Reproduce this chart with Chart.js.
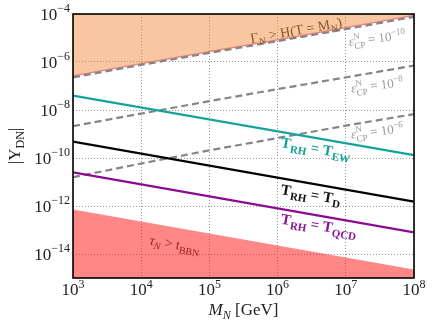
<!DOCTYPE html>
<html>
<head>
<meta charset="utf-8">
<script src="https://cdn.jsdelivr.net/npm/chart.js@4.4.1/dist/chart.umd.min.js"></script>
<style>
  html, body { margin: 0; padding: 0; background: #fff; }
</style>
</head>
<body>
<canvas id="chart" width="432" height="329"></canvas>
<script>
// Axis ranges / ticks
const xMin = 1e3, xMax = 1e8;
const yMin = 1e-15, yMax = 1e-4;
const xTickExp = [3, 4, 5, 6, 7, 8];
const yTickExp = [-4, -6, -8, -10, -12, -14];

// Masses M_N [GeV] the curves are read at
const massGrid = [1e3, 1e4, 1e5, 1e6, 1e7, 1e8];
const massEnds = [1e3, 1e8];

// log10 |Y_DN|
const logGammaH = [-6.58, -6.07, -5.57, -5.08, -4.57, -4.06];   // Gamma_N > H(T = M_N) boundary
const logEps10 = [-6.64, -6.12, -5.62, -5.13, -4.63, -4.12];    // eps_CP = 1e-10
const logEps8  = [-8.67, -8.15, -7.63, -7.13, -6.64, -6.15];    // eps_CP = 1e-8
const logEps6  = [-10.8, -10.23, -9.68, -9.17, -8.65, -8.17];   // eps_CP = 1e-6
const logTEW   = [-7.40, -9.88];    // T_RH = T_EW
const logTD    = [-9.32, -11.82];   // T_RH = T_D
const logTQCD  = [-10.60, -13.10];  // T_RH = T_QCD
const logBBN   = [-12.15, -14.65];  // tau_N > t_BBN boundary

const toPts = (xs, logs) => xs.map((x, i) => ({ x: x, y: Math.pow(10, logs[i]) }));

const SERIF = '"Liberation Serif", "DejaVu Serif", serif';
const MINUS = '\u2212';

// draw text made of pieces with sub/superscripts, centred on (x, y), rotated
function drawRich(ctx, parts, x, y, o) {
    const size = o.size;
    const small = Math.round(size * 0.7);
    const weight = o.bold ? 'bold ' : '';
    const font = (s, it) => (it ? 'italic ' : '') + weight + s + 'px ' + SERIF;
    const widths = parts.map(p => {
        if (p.k === 'both') {
            ctx.font = font(small, p.it);
            return Math.max(ctx.measureText(p.sup).width, ctx.measureText(p.sub).width);
        }
        ctx.font = font(p.k ? small : size, p.it);
        return ctx.measureText(p.t).width;
    });
    const total = widths.reduce((a, b) => a + b, 0);
    ctx.save();
    ctx.translate(x, y);
    ctx.rotate(o.angle || 0);
    ctx.fillStyle = o.color;
    ctx.textAlign = 'left';
    ctx.textBaseline = 'alphabetic';
    let cx = o.align === 'right' ? -total : (o.align === 'left' ? 0 : -total / 2);
    const base = o.baseline === undefined ? size * 0.35 : o.baseline;
    parts.forEach((p, i) => {
        if (p.k === 'both') {
            ctx.font = font(small, p.it);
            ctx.fillText(p.sup, cx, base - size * 0.45);
            ctx.fillText(p.sub, cx, base + size * 0.28);
        } else if (p.k === 'sub') {
            ctx.font = font(small, p.it);
            ctx.fillText(p.t, cx, base + size * 0.25);
        } else if (p.k === 'sup') {
            ctx.font = font(small, p.it);
            ctx.fillText(p.t, cx, base - size * 0.42);
        } else {
            ctx.font = font(size, p.it);
            ctx.fillText(p.t, cx, base);
        }
        cx += widths[i];
    });
    ctx.restore();
}

function lineAngle(chart, xs, logs) {
    const sx = chart.scales.x, sy = chart.scales.y;
    const n = xs.length - 1;
    const x1 = sx.getPixelForValue(xs[0]), x2 = sx.getPixelForValue(xs[n]);
    const y1 = sy.getPixelForValue(Math.pow(10, logs[0])), y2 = sy.getPixelForValue(Math.pow(10, logs[n]));
    return Math.atan2(y2 - y1, x2 - x1);
}

const epsLabel = e => [
    { t: '\u03b5', it: true },
    { k: 'both', sup: 'N', sub: 'CP' },
    { t: ' = 10' },
    { t: MINUS + e, k: 'sup' }
];

const decorPlugin = {
    id: 'decor',
    afterDraw(chart) {
        const ctx = chart.ctx;
        const a = chart.chartArea;
        const sx = chart.scales.x, sy = chart.scales.y;

        // frame
        ctx.save();
        ctx.strokeStyle = '#000';
        ctx.lineWidth = 1.6;
        ctx.strokeRect(a.left, a.top, a.right - a.left, a.bottom - a.top);
        ctx.restore();

        // x tick labels
        xTickExp.forEach(e => {
            const px = sx.getPixelForValue(Math.pow(10, e));
            drawRich(ctx, [{ t: '10' }, { t: String(e), k: 'sup' }], px, a.bottom + 17,
                { size: 17, color: '#222', baseline: 0 });
        });
        // y tick labels
        yTickExp.forEach(e => {
            const py = sy.getPixelForValue(Math.pow(10, e));
            drawRich(ctx, [{ t: '10' }, { t: MINUS + Math.abs(e), k: 'sup' }], a.left - 3, py + 5.5,
                { size: 17, color: '#222', baseline: 0, align: 'right' });
        });

        // axis titles
        drawRich(ctx, [{ t: 'M', it: true }, { t: 'N', k: 'sub', it: true }, { t: ' [GeV]' }],
            (a.left + a.right) / 2, 315, { size: 17, color: '#222', baseline: 0 });
        drawRich(ctx, [{ t: '|Y' }, { t: 'DN', k: 'sub' }, { t: '|' }],
            14, (a.top + a.bottom) / 2, { size: 17, color: '#222', angle: -Math.PI / 2 });

        // curve labels
        const up = lineAngle(chart, massGrid, logGammaH);
        const down = lineAngle(chart, massEnds, logTEW);
        drawRich(ctx, [{ t: '\u0393' }, { t: 'N', k: 'sub' }, { t: ' > H(T = M' }, { t: 'N', k: 'sub' }, { t: ')' }],
            296, 30, { size: 14, color: '#86582c', angle: up });
        drawRich(ctx, epsLabel(10), 377, 38, { size: 13, color: '#9a9a9a', angle: up * 0.7 });
        drawRich(ctx, epsLabel(8), 377, 85, { size: 13, color: '#9a9a9a', angle: up * 0.7 });
        drawRich(ctx, epsLabel(6), 377, 131, { size: 13, color: '#9a9a9a', angle: up * 0.7 });

        const T = (sub, color, x, y) => drawRich(ctx,
            [{ t: 'T' }, { t: 'RH', k: 'sub' }, { t: ' = T' }, { t: sub, k: 'sub' }],
            x, y, { size: 15, color: color, bold: true, angle: down });
        T('EW', '#14a39a', 316, 148);
        T('D', '#111', 311, 194);
        T('QCD', '#8a1592', 319, 225);

        drawRich(ctx, [{ t: '\u03c4', it: true }, { t: 'N', k: 'sub', it: true }, { t: ' > t' }, { t: 'BBN', k: 'sub' }],
            175, 244, { size: 14, color: '#a51d1d', angle: down });
    }
};

const solid = (label, data, color) => ({
    label, data, borderColor: color, borderWidth: 2.2, pointRadius: 0, fill: false, order: 1
});
const dashed = (label, data) => ({
    label, data, borderColor: '#858585', borderWidth: 2.2, borderDash: [7, 4], pointRadius: 0, fill: false, order: 5
});

new Chart(document.getElementById('chart'), {
    type: 'line',
    data: {
        datasets: [
            { label: 'Gamma_N > H', data: toPts(massGrid, logGammaH), fill: 'end',
              backgroundColor: 'rgba(238,120,30,0.42)', borderColor: '#f27a7a', borderWidth: 1.2,
              pointRadius: 0, order: 10 },
            { label: 'tau_N > t_BBN', data: toPts(massEnds, logBBN), fill: 'start',
              backgroundColor: 'rgba(255,0,0,0.47)', borderWidth: 0, pointRadius: 0, order: 10 },
            dashed('eps 1e-10', toPts(massGrid, logEps10)),
            dashed('eps 1e-8', toPts(massGrid, logEps8)),
            dashed('eps 1e-6', toPts(massGrid, logEps6)),
            solid('T_EW', toPts(massEnds, logTEW), '#14a39a'),
            solid('T_D', toPts(massEnds, logTD), '#000000'),
            solid('T_QCD', toPts(massEnds, logTQCD), '#8a0a94')
        ]
    },
    options: {
        responsive: false,
        animation: false,
        devicePixelRatio: 1,
        layout: { padding: { left: 73, right: 18, top: 14, bottom: 51 } },
        plugins: { legend: { display: false }, tooltip: { enabled: false } },
        scales: {
            x: {
                type: 'logarithmic', min: xMin, max: xMax,
                afterBuildTicks: s => { s.ticks = xTickExp.map(e => ({ value: Math.pow(10, e) })); },
                afterFit: s => { s.height = 0; },
                ticks: { display: false },
                grid: { color: '#9a9a9a', lineWidth: 1, drawTicks: false },
                border: { display: false, dash: [1, 2] }
            },
            y: {
                type: 'logarithmic', min: yMin, max: yMax,
                afterBuildTicks: s => { s.ticks = yTickExp.map(e => ({ value: Math.pow(10, e) })); },
                afterFit: s => { s.width = 0; },
                ticks: { display: false },
                grid: { color: '#9a9a9a', lineWidth: 1, drawTicks: false },
                border: { display: false, dash: [1, 2] }
            }
        }
    },
    plugins: [decorPlugin]
});
</script>
</body>
</html>
